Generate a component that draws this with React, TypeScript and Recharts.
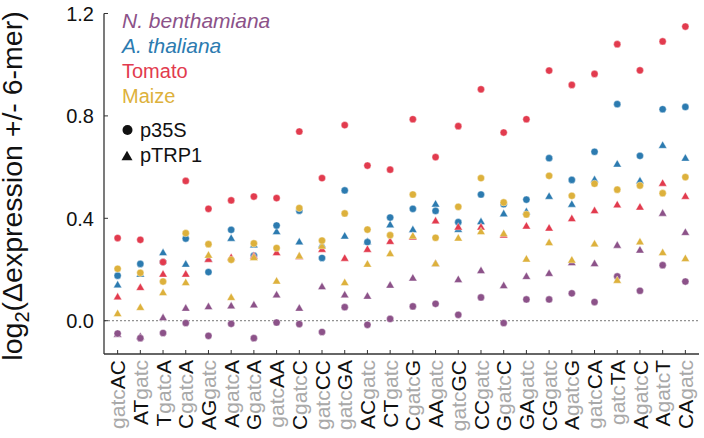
import { ScatterChart, Scatter, XAxis, YAxis, ReferenceLine, Label } from "recharts"

const font = "'Liberation Sans', Arial, sans-serif"

const categories = [
  "gatcAC", "ATgatc", "TgatcA", "CgatcA", "AGgatc", "AgatcA", "GgatcA", "gatcAA", "CgatcC",
  "gatcCC", "gatcGA", "ACgatc", "CTgatc", "CgatcG", "AAgatc", "gatcGC", "CCgatc", "GgatcC",
  "GAgatc", "CGgatc", "AgatcG", "gatcCA", "gatcTA", "AgatcC", "AgatcT", "CAgatc",
]

const yTicks = [0, 0.4, 0.8, 1.2]

// N. benthamiana
const nbenthP35S = [-0.05, -0.068, -0.048, -0.009, -0.059, -0.012, -0.068, -0.007, -0.013, -0.044, 0.053, -0.016, 0.007, 0.056, 0.066, 0.023, 0.091, -0.009, 0.083, 0.083, 0.107, 0.073, 0.173, 0.117, 0.217, 0.153]
const nbenthTRP1 = [-0.055, -0.064, 0.01, 0.047, 0.053, 0.056, 0.06, 0.099, 0.047, 0.131, 0.099, 0.094, 0.137, 0.165, 0.221, 0.159, 0.194, 0.135, 0.171, 0.183, 0.225, 0.221, 0.293, 0.274, 0.418, 0.343]
// A. thaliana
const athalP35S = [0.176, 0.222, 0.229, 0.321, 0.19, 0.355, 0.254, 0.372, 0.43, 0.245, 0.509, 0.307, 0.403, 0.437, 0.429, 0.385, 0.493, 0.455, 0.473, 0.635, 0.55, 0.66, 0.846, 0.644, 0.826, 0.835]
const athalTRP1 = [0.138, 0.18, 0.264, 0.219, 0.24, 0.32, 0.294, 0.346, 0.306, 0.294, 0.329, 0.307, 0.373, 0.354, 0.454, 0.355, 0.385, 0.416, 0.424, 0.484, 0.453, 0.549, 0.61, 0.544, 0.683, 0.633]
// Tomato
const tomatoP35S = [0.323, 0.316, 0.229, 0.546, 0.437, 0.47, 0.485, 0.479, 0.739, 0.557, 0.764, 0.606, 0.59, 0.787, 0.639, 0.76, 0.904, 0.735, 0.787, 0.977, 0.921, 0.964, 1.08, 0.978, 1.091, 1.149]
const tomatoTRP1 = [0.091, 0.128, 0.18, 0.18, 0.238, 0.245, 0.251, 0.264, 0.249, 0.277, 0.242, 0.277, 0.308, 0.325, 0.388, 0.364, 0.364, 0.333, 0.368, 0.36, 0.397, 0.428, 0.451, 0.442, 0.535, 0.484]
// Maize
const maizeP35S = [0.203, 0.187, 0.153, 0.342, 0.299, 0.238, 0.302, 0.284, 0.44, 0.313, 0.419, 0.356, 0.334, 0.493, 0.324, 0.445, 0.557, 0.462, 0.415, 0.566, 0.488, 0.535, 0.512, 0.528, 0.498, 0.561]
const maizeTRP1 = [0.026, 0.05, 0.108, 0.147, 0.254, 0.089, 0.245, 0.153, 0.251, 0.29, 0.147, 0.219, 0.26, 0.329, 0.221, 0.321, 0.346, 0.338, 0.239, 0.303, 0.235, 0.298, 0.156, 0.306, 0.264, 0.241]

const PURPLE = "#8c5289"
const BLUE = "#2c7bb0"
const RED = "#e23b4e"
const GOLD = "#ddb13c"

const species = [
  { name: "N. benthamiana", color: PURPLE, italic: true, p35s: nbenthP35S, trp1: nbenthTRP1 },
  { name: "A. thaliana", color: BLUE, italic: true, p35s: athalP35S, trp1: athalTRP1 },
  { name: "Tomato", color: RED, italic: false, p35s: tomatoP35S, trp1: tomatoTRP1 },
  { name: "Maize", color: GOLD, italic: false, p35s: maizeP35S, trp1: maizeTRP1 },
]

const toPoints = (vals: number[]) => vals.map((y, i) => ({ x: i, y }))

const triPath = (cx: number, cy: number, side: number) => {
  const h = (side * Math.sqrt(3)) / 2
  return `M${cx},${cy - (2 * h) / 3}L${cx + side / 2},${cy + h / 3}L${cx - side / 2},${cy + h / 3}Z`
}

const circleShape = (color: string) => (props: any) => (
  <circle cx={props.cx} cy={props.cy} r={3.6} fill={color} stroke="#fff" strokeWidth={0.4} />
)

const triangleShape = (color: string) => (props: any) => (
  <path d={triPath(props.cx, props.cy, 8.4)} fill={color} stroke="#fff" strokeWidth={0.4} />
)

const XTick = (props: any) => {
  const { x, y, payload } = props
  const label = categories[payload.value] ?? ""
  const idx = label.indexOf("gatc")
  const parts = [
    { t: label.slice(0, idx), c: "#111" },
    { t: "gatc", c: "#a9a9a9" },
    { t: label.slice(idx + 4), c: "#111" },
  ].filter((p) => p.t.length > 0)
  return (
    <g>
      <line x1={x} y1={y} x2={x} y2={y - 4} stroke="#333" strokeWidth={1} />
      <text
        transform={`translate(${x},${y + 6}) rotate(-90)`}
        textAnchor="end"
        dy="0.36em"
        fontSize={21}
        fontFamily={font}
      >
        {parts.map((p, i) => (
          <tspan key={i} fill={p.c}>{p.t}</tspan>
        ))}
      </text>
    </g>
  )
}

const YTick = (props: any) => {
  const { x, y, payload } = props
  return (
    <g>
      <line x1={x} y1={y} x2={x + 4} y2={y} stroke="#333" strokeWidth={1} />
      <text x={x - 10} y={y} dy="0.36em" textAnchor="end" fontSize={20} fontFamily={font} fill="#111">
        {payload.value.toFixed(1)}
      </text>
    </g>
  )
}

const YTitle = () => (
  <text
    transform="translate(21.5,186) rotate(-90)"
    textAnchor="middle"
    fontSize={28.5}
    fontFamily={font}
    fill="#111"
  >
    log<tspan fontSize={20} dy={7}>2</tspan>
    <tspan dy={-7}>(Δexpression +/- 6-mer)</tspan>
  </text>
)

function LegendOverlay() {
  return (
    <svg width={704} height={438} style={{ position: "absolute", left: 0, top: 0, pointerEvents: "none" }}>
      {species.map((s, i) => (
        <text
          key={s.name}
          x={122}
          y={28 + i * 25}
          fontSize={s.italic ? 21 : 20}
          fontFamily={font}
          fontStyle={s.italic ? "italic" : "normal"}
          fill={s.color}
        >
          {s.name}
        </text>
      ))}
      <circle cx={127.5} cy={130} r={5} fill="#111" />
      <text x={140} y={137} fontSize={20} fontFamily={font} fill="#111">p35S</text>
      <path d={triPath(127, 157, 11)} fill="#111" />
      <text x={140} y={162} fontSize={20} fontFamily={font} fill="#111">pTRP1</text>
    </svg>
  )
}

export default function App() {
  return (
    <div style={{ position: "absolute", left: 0, top: 0, width: 704, height: 438, background: "#fff" }}>
      <ScatterChart width={704} height={438} margin={{ top: 13.5, right: 5, bottom: 0, left: 0 }}>
        <XAxis
          type="number"
          dataKey="x"
          domain={[-0.6, 25.6]}
          ticks={categories.map((_, i) => i)}
          interval={0}
          height={84}
          tickLine={false}
          tickSize={0}
          tickMargin={0}
          tick={XTick}
          axisLine={{ stroke: "#333", strokeWidth: 1.3 }}
          allowDataOverflow
        />
        <YAxis
          type="number"
          dataKey="y"
          domain={[-0.13, 1.2]}
          ticks={yTicks}
          interval={0}
          width={104}
          tickLine={false}
          tickSize={0}
          tickMargin={0}
          tick={YTick}
          axisLine={{ stroke: "#333", strokeWidth: 1.3 }}
          allowDataOverflow
        >
          <Label content={YTitle} />
        </YAxis>
        <ReferenceLine y={0} stroke="#777" strokeDasharray="2 2" strokeWidth={1} />
        {species.map((s) => [
          <Scatter
            key={s.name + "-trp1"}
            name={s.name + " pTRP1"}
            data={toPoints(s.trp1)}
            shape={triangleShape(s.color)}
            isAnimationActive={false}
          />,
          <Scatter
            key={s.name + "-p35s"}
            name={s.name + " p35S"}
            data={toPoints(s.p35s)}
            shape={circleShape(s.color)}
            isAnimationActive={false}
          />,
        ])}
      </ScatterChart>
      <LegendOverlay />
    </div>
  )
}
